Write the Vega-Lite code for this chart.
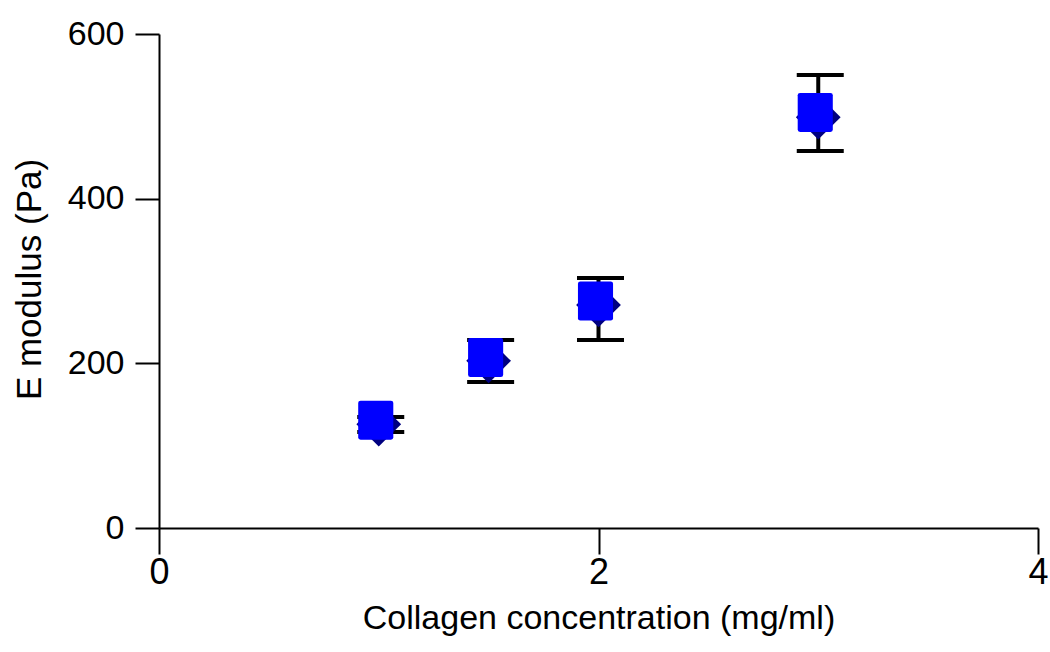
{
  "$schema": "https://vega.github.io/schema/vega-lite/v6.json",
  "width": 879,
  "height": 494,
  "autosize": {"type": "none"},
  "padding": {"left": 159, "top": 34, "right": 12, "bottom": 124},
  "background": "white",
  "config": {
    "view": {"stroke": null},
    "axis": {
      "grid": false,
      "domainColor": "black",
      "domainWidth": 2,
      "tickColor": "black",
      "tickWidth": 2,
      "labelFont": "Liberation Sans",
      "titleFont": "Liberation Sans",
      "labelColor": "black",
      "titleColor": "black",
      "titleFontWeight": "normal",
      "labelFlush": false
    }
  },
  "data": {
    "values": [
      {"conc": 1.0, "E_square": 131, "E_diamond": 126, "low": 116.6, "high": 134.8},
      {"conc": 1.5, "E_square": 207, "E_diamond": 203, "low": 177.3, "high": 228.3},
      {"conc": 2.0, "E_square": 275.7, "E_diamond": 271, "low": 228.3, "high": 303.7},
      {"conc": 3.0, "E_square": 504.7, "E_diamond": 499, "low": 457.9, "high": 550.2}
    ]
  },
  "encoding": {
    "x": {
      "field": "conc",
      "type": "quantitative",
      "scale": {"domain": [0, 4], "nice": false, "zero": false},
      "axis": {
        "values": [0, 2, 4],
        "title": "Collagen concentration (mg/ml)",
        "tickSize": 26,
        "labelPadding": 1,
        "labelFontSize": 36,
        "titleFontSize": 34,
        "titleY": 100,
        "titleBaseline": "alphabetic"
      }
    }
  },
  "layer": [
    {
      "mark": {"type": "rule", "strokeWidth": 4, "color": "black"},
      "encoding": {
        "y": {
          "field": "low",
          "type": "quantitative",
          "title": "E modulus (Pa)",
          "scale": {"domain": [0, 600], "nice": false},
          "axis": {
            "values": [0, 200, 400, 600],
            "tickSize": 24,
            "labelPadding": 11,
            "labelFontSize": 34,
            "titleFontSize": 35,
            "titleX": -119,
            "titleY": 245,
            "titleAngle": -90,
            "titleBaseline": "alphabetic"
          }
        },
        "y2": {"field": "high"}
      }
    },
    {
      "mark": {"type": "tick", "orient": "horizontal", "size": 47, "thickness": 4, "color": "black", "opacity": 1, "xOffset": 2},
      "encoding": {"y": {"field": "low", "type": "quantitative", "title": "E modulus (Pa)"}}
    },
    {
      "mark": {"type": "tick", "orient": "horizontal", "size": 47, "thickness": 4, "color": "black", "opacity": 1, "xOffset": 2},
      "encoding": {"y": {"field": "high", "type": "quantitative", "title": "E modulus (Pa)"}}
    },
    {
      "mark": {"type": "point", "shape": "diamond", "size": 2000, "filled": true, "opacity": 1, "color": "#000080"},
      "encoding": {"y": {"field": "E_diamond", "type": "quantitative", "title": "E modulus (Pa)"}}
    },
    {
      "mark": {"type": "point", "shape": "M -0.78,-1 L 0.78,-1 Q 0.9,-1 0.9,-0.88 L 0.9,0.88 Q 0.9,1 0.78,1 L -0.78,1 Q -0.9,1 -0.9,0.88 L -0.9,-0.88 Q -0.9,-1 -0.78,-1 Z", "size": 1521, "filled": true, "opacity": 1, "color": "#0000ff", "xOffset": -3},
      "encoding": {"y": {"field": "E_square", "type": "quantitative", "title": "E modulus (Pa)"}}
    }
  ]
}
